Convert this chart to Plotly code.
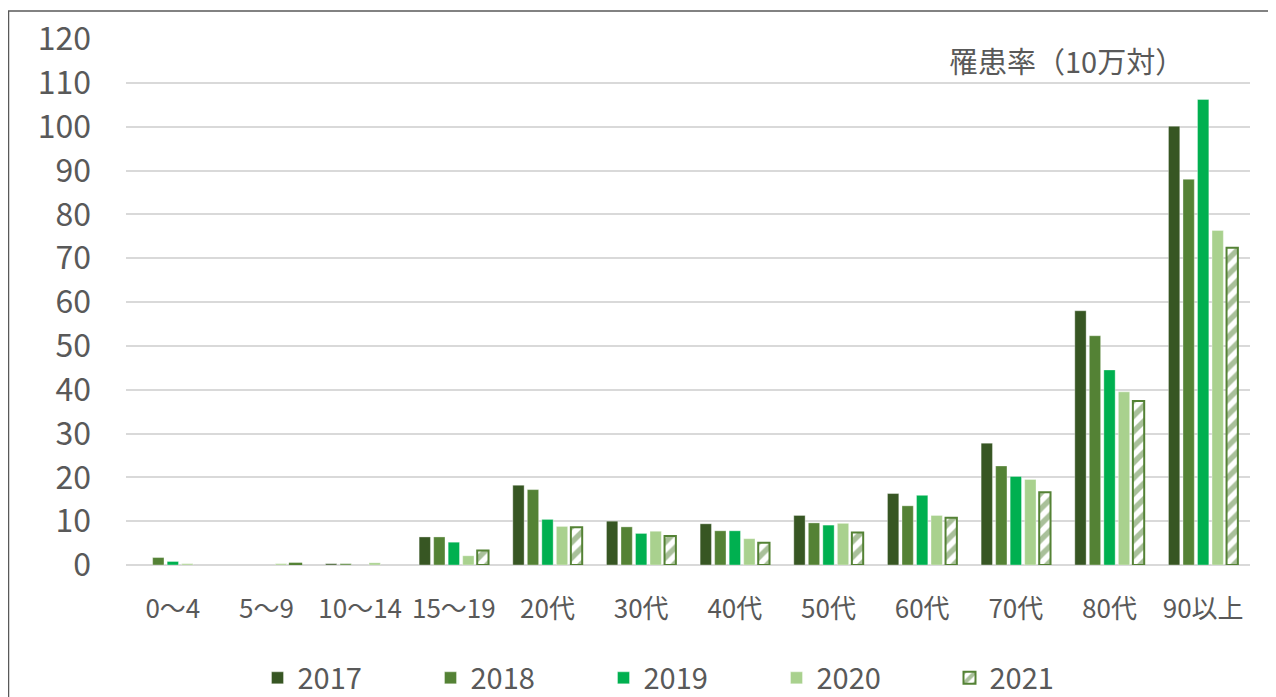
import plotly.graph_objects as go

categories = ["0〜4", "5〜9", "10〜14", "15〜19", "20代", "30代", "40代", "50代", "60代", "70代", "80代", "90以上"]
years = ["2017", "2018", "2019", "2020", "2021"]

v2017 = [0, 0, 0.3, 6.4, 18.2, 10.0, 9.4, 11.3, 16.3, 27.8, 58.0, 100.1]
v2018 = [1.7, 0, 0.3, 6.4, 17.2, 8.7, 7.8, 9.6, 13.5, 22.6, 52.3, 88.0]
v2019 = [0.8, 0, 0, 5.2, 10.4, 7.2, 7.8, 9.1, 15.9, 20.2, 44.5, 106.2]
v2020 = [0.3, 0.3, 0.5, 2.1, 8.8, 7.7, 6.0, 9.5, 11.3, 19.5, 39.5, 76.3]
v2021 = [0, 0.3, 0, 3.3, 8.6, 6.6, 5.1, 7.4, 10.8, 16.6, 37.4, 72.4]

series = [v2017, v2018, v2019, v2020, v2021]
colors = ["#375623", "#548235", "#00B050", "#A9D18E", "#FFFFFF"]

FONT = "Noto Sans CJK JP"
GRAY = "#595959"

fig = go.Figure()
for name, vals, col in zip(years, series, colors):
    # zero values draw nothing (avoid a stray outline on empty bars)
    yvals = [v if v != 0 else None for v in vals]
    if name == "2021":
        marker = dict(color="#FFFFFF",
                      line=dict(color="#548235", width=2),
                      pattern=dict(shape="/", fgcolor="#548235", bgcolor="#FFFFFF",
                                   size=11, solidity=0.5, fillmode="overlay"))
    else:
        marker = dict(color=col, line=dict(color="rgba(255,255,255,0.35)", width=1))
    fig.add_trace(go.Bar(x=categories, y=yvals, name=name, marker=marker))

# page has an 8px body margin: figure origin sits at screen (8, 8)
OFF = 8
W, H = 1276 - OFF, 697 - OFF
ml, mr, mt, mb = 126 - OFF, 26, 39 - OFF, 132
pw, ph = W - ml - mr, H - mt - mb

def px(x):
    return (x - OFF - ml) / pw

def py(y):
    return (H - mb - (y - OFF)) / ph

fig.update_layout(
    width=W, height=H,
    margin=dict(l=ml, r=mr, t=mt, b=mb, autoexpand=False),
    paper_bgcolor="white", plot_bgcolor="white",
    barmode="group", bargap=0.225, bargroupgap=0.22,
    font=dict(family=FONT, color=GRAY),
    showlegend=True,
    legend=dict(orientation="h", x=px(690), xanchor="center", y=py(678), yanchor="middle",
                font=dict(size=29, color=GRAY, family=FONT),
                entrywidth=128, entrywidthmode="pixels", traceorder="normal"),
    xaxis=dict(showgrid=False, showline=False, zeroline=False, ticks="",
               tickfont=dict(size=26, color=GRAY, family=FONT), ticklabelstandoff=26),
    yaxis=dict(range=[0, 120], dtick=10, tick0=0, showgrid=True, gridcolor="#D9D9D9",
               gridwidth=2, zeroline=True, zerolinecolor="#D9D9D9", zerolinewidth=2,
               showline=False, ticks="",
               tickfont=dict(size=32, color=GRAY, family=FONT), ticklabelstandoff=34),
    annotations=[dict(text="罹患率（10万対）", xref="paper", yref="paper",
                      x=px(1186), y=py(60), xanchor="right", yanchor="middle",
                      showarrow=False, font=dict(size=29, color=GRAY, family=FONT))],
    shapes=[dict(type="rect", xref="paper", yref="paper",
                 x0=px(8.5), y0=py(720), x1=px(1300), y1=py(11),
                 line=dict(color="#595959", width=1.5), fillcolor="rgba(0,0,0,0)", layer="below")],
)

fig.write_html("out.html")
